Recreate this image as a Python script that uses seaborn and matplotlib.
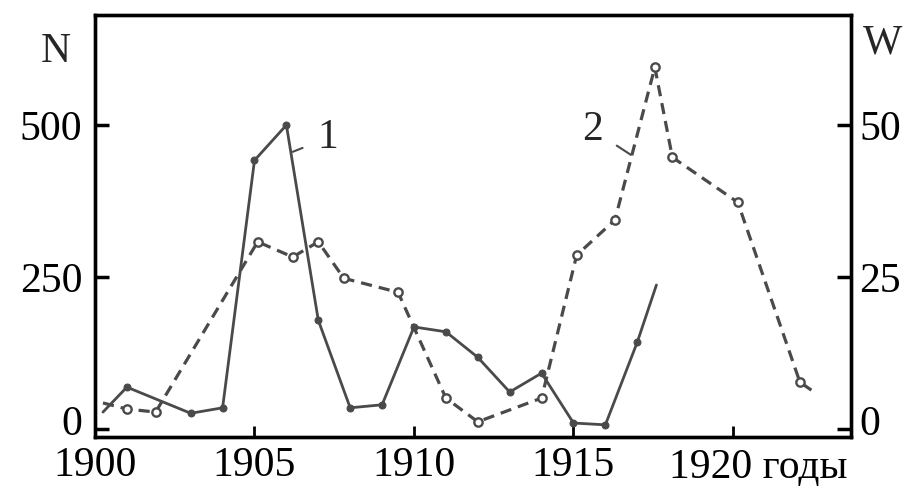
import matplotlib
matplotlib.use("Agg")
import matplotlib.pyplot as plt
import matplotlib.transforms as mtransforms
import seaborn as sns
import pandas as pd

# ---- data ----
years_n = [1900.25, 1901, 1903, 1904, 1905, 1906, 1907, 1908, 1909, 1910,
           1911, 1912, 1913, 1914, 1915, 1916, 1917, 1917.6]
values_n = [28, 69, 26, 35, 442, 500, 179, 35, 40, 168,
            160, 118, 61, 92, 10, 7, 143, 237]

years_w = [1900.25, 1901, 1901.9, 1905.1, 1906.2, 1907, 1907.8, 1909.5, 1911,
           1912, 1914, 1915.1, 1916.3, 1917.55, 1918.1, 1920.15, 1922.1, 1922.6]
values_w = [4.3, 3.3, 2.8, 30.8, 28.3, 30.8, 24.8, 22.5, 5.1,
            1.2, 5.1, 28.6, 34.4, 59.5, 44.7, 37.3, 7.7, 5.9]

xticks = [1900, 1905, 1910, 1915]
xtick_labels = ["1900", "1905", "1910", "1915"]
last_tick = 1920
last_label = "1920 годы"
n_ticks = [0, 250, 500]
w_ticks = [0, 25, 50]

sns.set_style("white")
plt.rcParams["font.family"] = ["Liberation Serif", "DejaVu Serif"]

line_color = "#4a4a4a"
fs = 30

fig = plt.figure(figsize=(9.08, 4.90), dpi=100)
ax = fig.add_axes([95 / 908, 1 - 437 / 490, (851 - 95) / 908, (437 - 15) / 490])
ax2 = ax.twinx()

df_n = pd.DataFrame({"year": years_n, "N": values_n})
df_w = pd.DataFrame({"year": years_w, "W": values_w})

sns.lineplot(data=df_n, x="year", y="N", ax=ax, color=line_color, lw=2.0,
             marker="o", markersize=5, markerfacecolor=line_color,
             markeredgecolor=line_color, markevery=list(range(1, len(years_n) - 1)),
             sort=False, estimator=None)
sns.lineplot(data=df_w, x="year", y="W", ax=ax2, color=line_color, lw=2.3,
             linestyle=(0, (3.5, 2.2)), marker="o", markersize=6,
             markerfacecolor="white", markeredgecolor=line_color, markeredgewidth=1.7,
             markevery=list(range(1, len(years_w) - 1)), sort=False, estimator=None)

ax.set_xlim(1900, 1923.7)
ax.set_ylim(-13, 681)
ax2.set_ylim(-1.3, 68.1)

ax.set_xticks(xticks + [last_tick])
ax.set_xticklabels(xtick_labels + [""])
ax.set_yticks(n_ticks)
ax.set_yticklabels([str(v) for v in n_ticks])
ax2.set_yticks(w_ticks)
ax2.set_yticklabels([str(v) for v in w_ticks])

ax.set_xlabel("")
ax.set_ylabel("")
ax2.set_ylabel("")

ax.tick_params(axis="y", direction="in", length=10, width=2.5, labelsize=fs,
               pad=9, left=True, right=False, colors="black")
ax.tick_params(axis="x", direction="in", length=8, width=2, labelsize=fs,
               pad=7, bottom=True, colors="black")
ax2.tick_params(axis="y", direction="in", length=10, width=2.5, labelsize=fs,
                pad=6, right=True, left=False, colors="black")

# lift the two "0" labels a little, as in the reference
lift = mtransforms.ScaledTranslation(0, 9 / 100, fig.dpi_scale_trans)
for a, side in ((ax, "left"), (ax2, "right")):
    for tick in a.yaxis.get_major_ticks():
        if abs(tick.get_loc()) < 1e-9:
            lbl = tick.label1 if side == "left" else tick.label2
            lbl.set_transform(lbl.get_transform() + lift)

for a in (ax, ax2):
    for s in a.spines.values():
        s.set_visible(True)
        s.set_color("black")
        s.set_linewidth(2.4)

# "1920 годы" label
ax.text(1918.0, -0.028, last_label, transform=ax.get_xaxis_transform(),
        ha="left", va="top", fontsize=fs, color="black")

# axis names
fig.text(56 / 908, 1 - 52 / 490, "N", ha="center", va="center", fontsize=fs)
fig.text(883 / 908, 1 - 43 / 490, "W", ha="center", va="center", fontsize=fs)

# curve labels with short leaders
ax.annotate("1", xy=(1906.2, 456), xytext=(1907.3, 479), fontsize=fs,
            ha="center", va="center",
            arrowprops=dict(arrowstyle="-", color=line_color, lw=1.5,
                            shrinkA=9, shrinkB=0))
ax2.annotate("2", xy=(1916.8, 45.1), xytext=(1915.6, 49.2), fontsize=fs,
             ha="center", va="center",
             arrowprops=dict(arrowstyle="-", color=line_color, lw=1.5,
                             shrinkA=9, shrinkB=0))

fig.savefig("out.png", dpi=100)
